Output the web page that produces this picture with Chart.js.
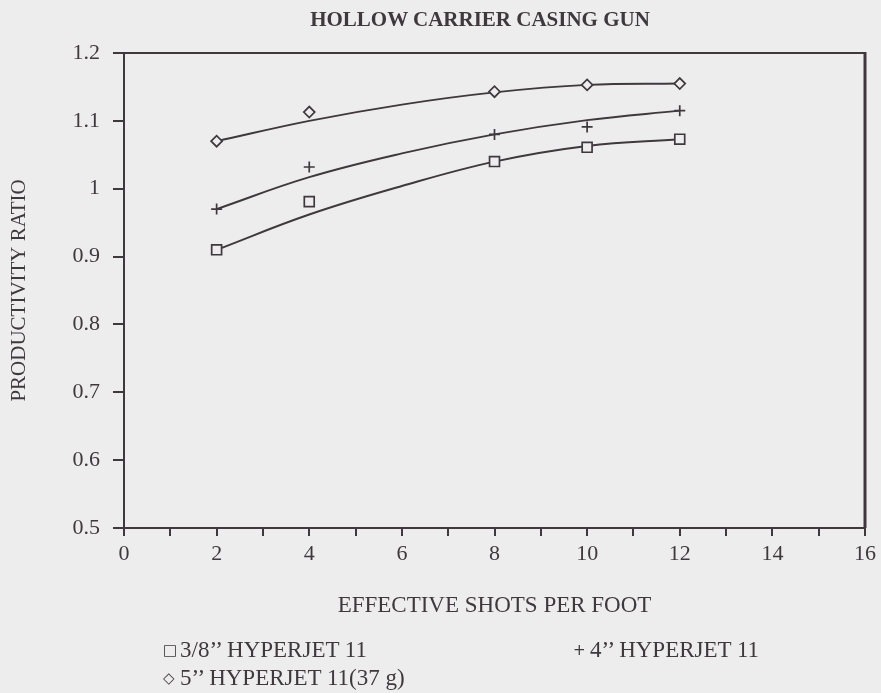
<!DOCTYPE html>
<html>
<head>
<meta charset="utf-8">
<title>Hollow Carrier Casing Gun</title>
<script src="https://cdn.jsdelivr.net/npm/chart.js@4.4.1/dist/chart.umd.min.js"></script>
<style>
  html, body { margin: 0; padding: 0; background: #eeedee; }
  #wrap { position: relative; width: 881px; height: 693px; }
  #title { position: absolute; left: 280px; width: 400px; top: 6px; text-align: center; font-family: 'Liberation Serif', 'Times New Roman', serif; font-weight: bold; font-size: 21px; line-height: 26px; color: #3f383c; white-space: nowrap; }
  #legend { position: absolute; left: 0; top: 0; font-family: 'Liberation Serif', 'Times New Roman', serif; font-size: 23px; color: #3f383c; }
  .item { position: absolute; white-space: nowrap; line-height: 26px; }
  .sym { display: inline-block; width: 17px; font-family: 'DejaVu Sans', sans-serif; font-size: 15px; vertical-align: 2px; }
</style>
</head>
<body>
<div id="wrap">
  <canvas id="chart" width="881" height="693"></canvas>
  <div id="title">HOLLOW CARRIER CASING GUN</div>
  <div id="legend"></div>
</div>
<script>
const shotsPerFoot = [2, 4, 8, 10, 12];
const squareRatio  = [0.910, 0.981, 1.040, 1.061, 1.073];
const plusRatio    = [0.970, 1.032, 1.080, 1.091, 1.115];
const diamondRatio = [1.070, 1.113, 1.143, 1.153, 1.155];

// hand-drawn fitted curves
const fitShots   = [2, 4, 6, 8, 10, 12];
const squareFit  = [0.910, 0.962, 1.004, 1.040, 1.063, 1.073];
const plusFit    = [0.970, 1.017, 1.052, 1.080, 1.101, 1.115];
const diamondFit = [1.070, 1.100, 1.124, 1.142, 1.153, 1.155];

const seriesLabels  = ['3/8\u2019\u2019 HYPERJET 11', '4\u2019\u2019 HYPERJET 11', '5\u2019\u2019 HYPERJET 11(37 g)'];
const seriesSymbols = ['\u25A1', '+', '\u25C7'];

const INK = '#3f383c';
const PAPER = '#eeedee';
const SERIF = "'Liberation Serif', 'Times New Roman', serif";

function toPoints(xs, ys) {
    return xs.map((x, i) => ({ x: x, y: ys[i] }));
}

function markerSet(label, ys, style, radius) {
    return {
        label: label,
        data: toPoints(shotsPerFoot, ys),
        showLine: false,
        pointStyle: style,
        pointRadius: radius,
        pointBorderWidth: 1.7,
        pointBorderColor: INK,
        pointBackgroundColor: PAPER
    };
}

function curveSet(label, ys) {
    return {
        label: label,
        data: toPoints(fitShots, ys),
        showLine: true,
        borderColor: INK,
        borderWidth: 1.9,
        pointRadius: 0,
        tension: 0.4,
        fill: false
    };
}

// frame on top and right of the plot area
const plotFrame = {
    id: 'plotFrame',
    afterDraw(chart) {
        const { ctx, chartArea: a } = chart;
        ctx.save();
        ctx.strokeStyle = INK;
        ctx.lineWidth = 2;
        ctx.beginPath();
        ctx.moveTo(a.left, a.top);
        ctx.lineTo(a.right, a.top);
        ctx.stroke();
        ctx.lineWidth = 3;
        ctx.beginPath();
        ctx.moveTo(a.right, a.top - 1);
        ctx.lineTo(a.right, a.bottom);
        ctx.stroke();
        ctx.restore();
    }
};

const chart = new Chart(document.getElementById('chart'), {
    type: 'scatter',
    data: {
        datasets: [
            markerSet(seriesLabels[0], squareRatio, 'rect', 7),
            markerSet(seriesLabels[1], plusRatio, 'cross', 5.5),
            markerSet(seriesLabels[2], diamondRatio, 'rectRot', 5.5),
            curveSet(seriesLabels[0] + ' fit', squareFit),
            curveSet(seriesLabels[1] + ' fit', plusFit),
            curveSet(seriesLabels[2] + ' fit', diamondFit)
        ]
    },
    options: {
        responsive: false,
        animation: false,
        layout: { padding: { left: 0, right: 15, top: 53, bottom: 73 } },
        plugins: {
            legend: { display: false },
            tooltip: { enabled: false },
            title: { display: false }
        },
        scales: {
            x: {
                type: 'linear',
                min: 0,
                max: 16,
                afterFit: (scale) => { scale.height = 92; },
                border: { display: true, color: INK, width: 2 },
                grid: { display: true, drawOnChartArea: false, drawTicks: true, tickLength: 8, color: INK, lineWidth: 2 },
                ticks: {
                    stepSize: 1,
                    autoSkip: false,
                    maxRotation: 0,
                    padding: 5,
                    color: INK,
                    font: { family: SERIF, size: 22 },
                    callback: (v) => (v % 2 === 0 ? String(v) : '')
                },
                title: {
                    display: true,
                    text: 'EFFECTIVE SHOTS PER FOOT',
                    color: INK,
                    font: { family: SERIF, size: 23 },
                    padding: { top: 0, bottom: 0 }
                }
            },
            y: {
                min: 0.5,
                max: 1.2,
                afterFit: (scale) => { scale.width = 124; },
                border: { display: true, color: INK, width: 2 },
                grid: { display: true, drawOnChartArea: false, drawTicks: true, tickLength: 11, color: INK, lineWidth: 2 },
                ticks: {
                    stepSize: 0.1,
                    padding: 13,
                    color: INK,
                    font: { family: SERIF, size: 22 },
                    callback: (v) => String(Number(v.toFixed(1)))
                },
                title: {
                    display: true,
                    text: 'PRODUCTIVITY RATIO',
                    color: INK,
                    font: { family: SERIF, size: 21 },
                    padding: { top: 7, bottom: 0 }
                }
            }
        }
    },
    plugins: [plotFrame]
});

// legend below the axis title, laid out like the original
const legendSpots = [
    { left: 163, top: 637 },
    { left: 573, top: 637 },
    { left: 163, top: 665 }
];
const legendBox = document.getElementById('legend');
seriesLabels.forEach((label, i) => {
    const item = document.createElement('div');
    item.className = 'item';
    item.style.left = legendSpots[i].left + 'px';
    item.style.top = legendSpots[i].top + 'px';
    const sym = document.createElement('span');
    sym.className = 'sym';
    sym.textContent = seriesSymbols[i];
    item.appendChild(sym);
    item.appendChild(document.createTextNode(label));
    legendBox.appendChild(item);
});
</script>
</body>
</html>
